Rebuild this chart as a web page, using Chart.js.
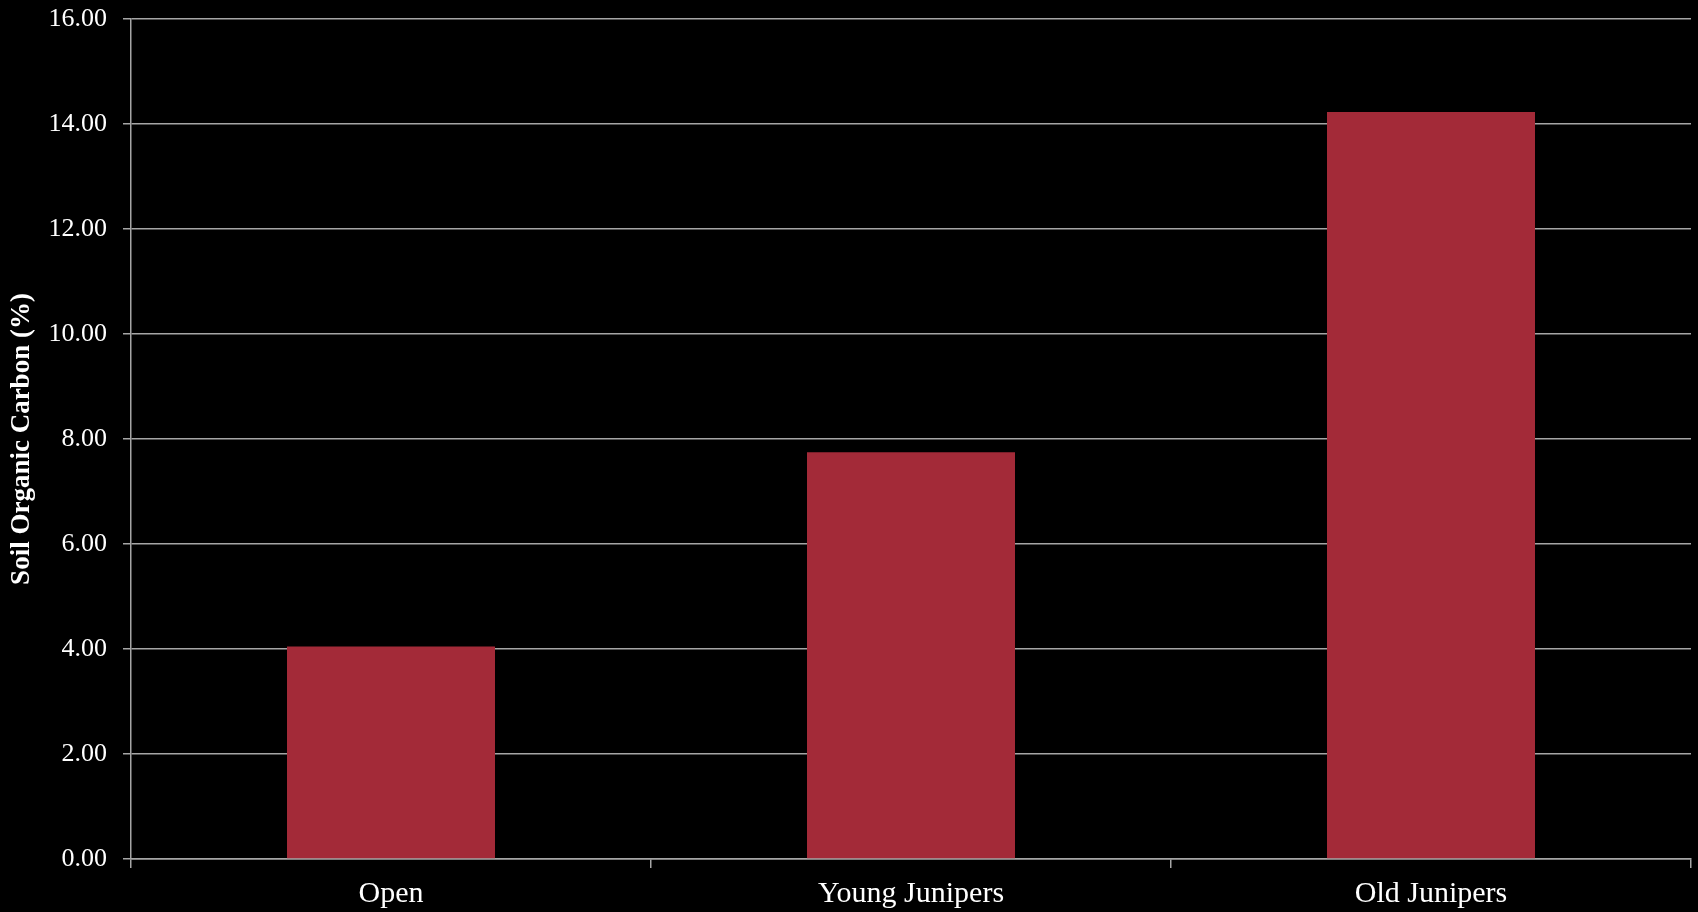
<!DOCTYPE html>
<html>
<head>
<meta charset="utf-8">
<script src="https://cdn.jsdelivr.net/npm/chart.js@4.4.0/dist/chart.umd.min.js"></script>
<style>
  html, body { margin: 0; padding: 0; background: #000; }
  #wrap { width: 1698px; height: 912px; }
</style>
</head>
<body>
<div id="wrap"><canvas id="soc"></canvas></div>
<script>
// chart data
const categories = ["Open", "Young Junipers", "Old Junipers"];
const socValues = [4.05, 7.75, 14.23];
const yTitle = "Soil Organic Carbon (%)";

const gridGray = "#a6a6a6";
const serif = "'Liberation Serif', 'DejaVu Serif', serif";

const ctx = document.getElementById("soc").getContext("2d");

new Chart(ctx, {
  type: "bar",
  data: {
    labels: categories,
    datasets: [
      {
        data: socValues,
        backgroundColor: "#a32a38",
        borderWidth: 0,
        categoryPercentage: 0.4,
        barPercentage: 1.0,
      },
    ],
  },
  options: {
    responsive: true,
    maintainAspectRatio: false,
    animation: false,
    layout: { padding: { top: 19, right: 7, bottom: 0, left: 0 } },
    plugins: {
      legend: { display: false },
      tooltip: { enabled: false },
    },
    scales: {
      x: {
        grid: {
          offset: true,
          drawOnChartArea: false,
          drawTicks: true,
          tickLength: 9,
          color: gridGray,
          lineWidth: 1.5,
        },
        border: { color: gridGray, width: 1.5 },
        ticks: {
          color: "#ffffff",
          padding: 8,
          font: { family: serif, size: 30 },
        },
        afterFit: (scale) => {
          scale.height = 53;
        },
      },
      y: {
        min: 0,
        max: 16,
        ticks: {
          stepSize: 2,
          color: "#ffffff",
          padding: 16,
          font: { family: serif, size: 26 },
          callback: (v) => v.toFixed(2),
        },
        grid: {
          color: gridGray,
          lineWidth: 1.5,
          tickLength: 8,
        },
        border: { color: gridGray, width: 1.5 },
        title: {
          display: true,
          text: yTitle,
          color: "#ffffff",
          padding: { top: 6, bottom: 0 },
          font: { family: serif, size: 27, weight: "bold" },
        },
        afterFit: (scale) => {
          scale.width = 131;
          // keep the plot top where the reference has it
          scale.paddingTop = 0;
          scale.paddingBottom = 0;
        },
      },
    },
  },
});
</script>
</body>
</html>
